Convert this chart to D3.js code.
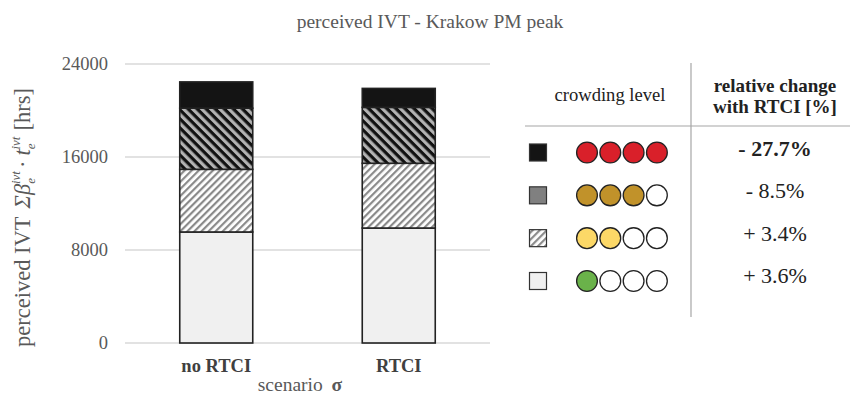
<!DOCTYPE html>
<html>
<head>
<meta charset="utf-8">
<script src="https://cdn.jsdelivr.net/npm/d3@7"></script>
<style>
  body { margin: 0; background: #fff; }
  svg, svg text { font-family: "Times New Roman", "Liberation Serif", "DejaVu Serif", serif; }
</style>
</head>
<body>
<div class="chart"></div>
<script>
// chart data
var scenarios = ["no RTCI", "RTCI"];
var levels = ["green", "yellow", "gold", "red"]; // bottom to top
var greenVals = [9550, 9890];
var yellowVals = [5390, 5570];
var goldVals = [5260, 4810];
var redVals = [2260, 1630];
var yTicks = [0, 8000, 16000, 24000];
var changeLabels = ["- 27.7%", "- 8.5%", "+ 3.4%", "+ 3.6%"]; // top row first
var filledDots = [4, 3, 2, 1];
var dotColors = ["#d9202a", "#c1922a", "#fcd867", "#6ab24a"];

var serif = "'Times New Roman', 'Liberation Serif', serif";

function init() {
  var w = 850, h = 400;
  var svg = d3.select(".chart").append("svg")
    .attr("width", w).attr("height", h);

  // hatch patterns
  var defs = svg.append("defs");
  var p1 = defs.append("pattern")
    .attr("id", "darkHatch")
    .attr("patternUnits", "userSpaceOnUse")
    .attr("width", 6.4).attr("height", 6.4)
    .attr("patternTransform", "rotate(45)");
  p1.append("rect").attr("width", 6.4).attr("height", 6.4).attr("fill", "#b3b3b3");
  p1.append("rect").attr("width", 6.4).attr("height", 3.2).attr("fill", "#111");
  var p2 = defs.append("pattern")
    .attr("id", "lightHatch")
    .attr("patternUnits", "userSpaceOnUse")
    .attr("width", 5).attr("height", 5)
    .attr("patternTransform", "rotate(-45)");
  p2.append("rect").attr("width", 5).attr("height", 5).attr("fill", "#fff");
  p2.append("rect").attr("width", 5).attr("height", 2.2).attr("fill", "#8a8a8a");

  var fills = { green: "#f0f0f0", yellow: "url(#lightHatch)", gold: "url(#darkHatch)", red: "#141414" };

  var data = scenarios.map(function (s, i) {
    return { scenario: s, green: greenVals[i], yellow: yellowVals[i], gold: goldVals[i], red: redVals[i] };
  });
  var stacked = d3.stack().keys(levels)(data);

  var xScale = d3.scaleBand()
    .domain(scenarios)
    .range([125, 490])
    .paddingInner(0.6)
    .paddingOuter(0.3);
  var yScale = d3.scaleLinear()
    .domain([0, 24000])
    .range([343, 64]);

  // gridlines
  svg.append("g").selectAll("line")
    .data(yTicks).enter().append("line")
    .attr("x1", 125).attr("x2", 490)
    .attr("y1", function (d) { return yScale(d); })
    .attr("y2", function (d) { return yScale(d); })
    .attr("stroke", "#d9d9d9").attr("stroke-width", 1.3);

  // y axis labels
  var yAxis = d3.axisLeft(yScale).tickValues(yTicks).tickSize(0).tickPadding(0)
    .tickFormat(d3.format("d"));
  var ya = svg.append("g").attr("transform", "translate(108,0)").call(yAxis)
    .attr("font-family", serif);
  ya.select(".domain").remove();
  ya.selectAll("text")
    .attr("fill", "#595959")
    .style("font-size", "18.5px");

  // bars
  svg.append("g").selectAll("g")
    .data(stacked).enter().append("g")
    .attr("fill", function (d) { return fills[d.key]; })
    .selectAll("rect")
    .data(function (d) { return d; }).enter().append("rect")
    .attr("x", function (d) { return xScale(d.data.scenario); })
    .attr("width", xScale.bandwidth())
    .attr("y", function (d) { return yScale(d[1]); })
    .attr("height", function (d) { return yScale(d[0]) - yScale(d[1]); })
    .attr("stroke", "#222").attr("stroke-width", 1.6);

  // x axis labels
  var xAxis = d3.axisBottom(xScale).tickSize(0).tickPadding(0);
  var xa = svg.append("g").attr("transform", "translate(0,359)").call(xAxis)
    .attr("font-family", serif);
  xa.select(".domain").remove();
  xa.selectAll("text")
    .attr("fill", "#404040")
    .style("font-weight", "bold")
    .style("font-size", "18.5px");

  // title
  svg.append("text")
    .attr("x", 430).attr("y", 28)
    .attr("text-anchor", "middle")
    .attr("fill", "#595959")
    .style("font-size", "19.5px")
    .text("perceived IVT - Krakow PM peak");

  // x title
  var xt = svg.append("text")
    .attr("x", 300).attr("y", 391)
    .attr("text-anchor", "middle")
    .attr("fill", "#595959")
    .style("font-size", "19.5px");
  xt.append("tspan").text("scenario ");
  xt.append("tspan").attr("dx", 4).style("font-weight", "bold").text("σ");

  // y title (reads bottom to top)
  var yt = svg.append("text")
    .attr("transform", "translate(30,347) rotate(-90)")
    .attr("text-anchor", "start")
    .attr("fill", "#595959")
    .style("font-size", "22.5px");
  yt.append("tspan").text("perceived IVT");
  yt.append("tspan").attr("dx", 8).style("font-style", "italic").text("Σβ");
  yt.append("tspan").style("font-style", "italic").style("font-size", "13px").attr("dy", 5).text("e");
  yt.append("tspan").style("font-style", "italic").style("font-size", "13px").attr("dy", -15).attr("dx", -6).text("ivt");
  yt.append("tspan").attr("dy", 10).attr("dx", 3).text("·");
  yt.append("tspan").attr("dx", 5).style("font-style", "italic").text("t");
  yt.append("tspan").style("font-style", "italic").style("font-size", "13px").attr("dy", 5).text("e");
  yt.append("tspan").style("font-style", "italic").style("font-size", "13px").attr("dy", -15).attr("dx", -6).text("ivt");
  yt.append("tspan").attr("dy", 10).attr("dx", 6).text("[hrs]");

  // legend table
  var lg = svg.append("g");
  lg.append("line").attr("x1", 691).attr("x2", 691).attr("y1", 63).attr("y2", 317)
    .attr("stroke", "#a6a6a6").attr("stroke-width", 1.2);
  lg.append("line").attr("x1", 525).attr("x2", 850).attr("y1", 126).attr("y2", 126)
    .attr("stroke", "#a6a6a6").attr("stroke-width", 1.2);
  lg.append("text").attr("x", 610).attr("y", 101).attr("text-anchor", "middle")
    .attr("fill", "#222").style("font-size", "18.6px").text("crowding level");
  lg.append("text").attr("x", 775).attr("y", 92).attr("text-anchor", "middle")
    .attr("fill", "#222").style("font-size", "19px").style("font-weight", "bold").text("relative change");
  lg.append("text").attr("x", 775).attr("y", 113).attr("text-anchor", "middle")
    .attr("fill", "#222").style("font-size", "19px").style("font-weight", "bold").text("with RTCI [%]");

  var rowY = d3.scalePoint().domain(d3.range(4)).range([152.5, 281]);
  var textY = d3.scalePoint().domain(d3.range(4)).range([156, 283]);
  var rowFills = ["#141414", "#808080", "url(#lightHatch)", "#f0f0f0"];
  var rows = lg.selectAll(".row").data(d3.range(4)).enter().append("g")
    .attr("class", "row")
    .attr("transform", function (i) { return "translate(0," + rowY(i) + ")"; });
  rows.append("rect")
    .attr("x", 529.5).attr("y", -8.5).attr("width", 17).attr("height", 17)
    .attr("fill", function (i) { return rowFills[i]; })
    .attr("stroke", "#333").attr("stroke-width", 1.2);
  rows.selectAll("circle")
    .data(function (i) { return d3.range(4).map(function (k) { return { row: i, k: k }; }); })
    .enter().append("circle")
    .attr("cx", function (d) { return 587 + d.k * 23.3; })
    .attr("cy", 0).attr("r", 10.4)
    .attr("fill", function (d) { return d.k < filledDots[d.row] ? dotColors[d.row] : "#fff"; })
    .attr("stroke", "#222").attr("stroke-width", 1.3);

  lg.selectAll(".change").data(d3.range(4)).enter().append("text")
    .attr("class", "change")
    .attr("x", 775).attr("y", function (i) { return textY(i); })
    .attr("text-anchor", "middle")
    .attr("fill", "#222")
    .style("font-size", "22px")
    .style("font-weight", function (i) { return i === 0 ? "bold" : "normal"; })
    .text(function (i) { return changeLabels[i]; });
}
window.onload = init;
</script>
</body>
</html>
